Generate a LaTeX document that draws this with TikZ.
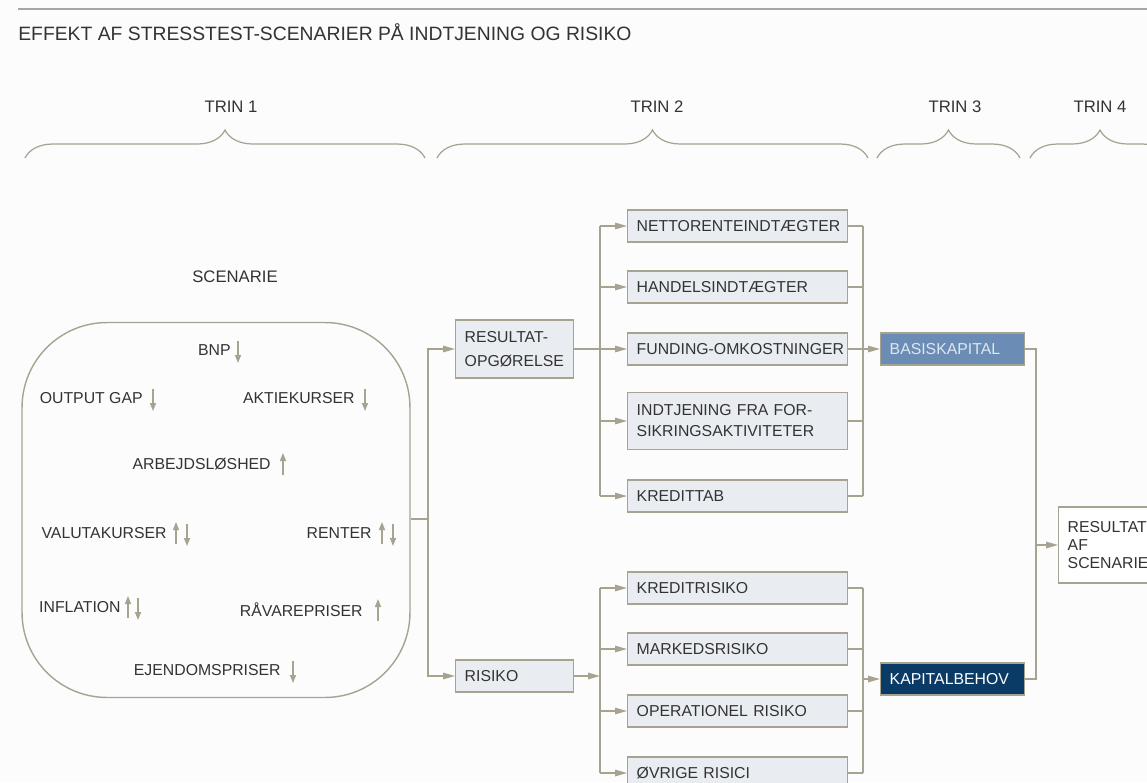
\documentclass[tikz,border=0pt]{standalone}
\usepackage{fontspec}
\setmainfont{Liberation Sans}
\usetikzlibrary{positioning}
\usetikzlibrary{arrows.meta}
\usetikzlibrary{calc}
\usetikzlibrary{decorations.pathreplacing}
\definecolor{linegray}{HTML}{A7A391}
\definecolor{boxfill}{HTML}{E9EDF2}
\definecolor{txtgray}{HTML}{333333}
\definecolor{basisblue}{HTML}{6B8CB4}
\definecolor{basistxt}{HTML}{DDE7F2}
\definecolor{navy}{HTML}{0A3B67}
\definecolor{paper}{HTML}{FCFCFC}
\tikzset{
    boxn/.style = {draw=linegray, line width=0.8pt, fill=boxfill, anchor=west, align=left, inner xsep=0.18cm, inner ysep=0pt, minimum height=0.64cm, text width=4.04cm, font=\fontsize{9}{12}\selectfont, text=txtgray},
    boxs/.style = {boxn, text width=2.0cm},
    boxb/.style = {boxn, fill=basisblue, text=basistxt, text width=2.52cm},
    boxk/.style = {boxn, fill=navy, text=white, text width=2.52cm},
    boxw/.style = {boxn, fill=white, text width=3cm, font=\fontsize{9}{10.5}\selectfont},
    scenbox/.style = {draw=linegray, line width=0.8pt, rounded corners=1.7cm, minimum width=7.76cm, minimum height=7.5cm},
    labn/.style = {font=\fontsize{9}{11}\selectfont, text=txtgray, anchor=east, inner sep=0pt},
    trin/.style = {font=\fontsize{9.5}{11}\selectfont, text=txtgray},
    edgen/.style = {-, line width=0.8pt, linegray},
    edgea/.style = {-{Triangle[length=0.24cm,width=0.13cm]}, line width=0.8pt, linegray},
    symd/.style = {-{Triangle[length=0.16cm,width=0.12cm]}, line width=0.8pt, linegray},
    bracen/.style = {decorate, decoration={brace, amplitude=0.56cm}, line width=0.7pt, linegray}
}

\begin{document}
\begin{tikzpicture}[x=0.02cm, y=-0.02cm]
  \useasboundingbox (0,0) rectangle (1147,782);
  \clip (0,0) rectangle (1147,782);
  \fill[paper] (0,0) rectangle (1147,782);

  % header
  \draw[line width=1pt, black!35] (18,9) -- (1147,9);
  \node[anchor=west, inner sep=0pt, font=\fontsize{11}{13}\selectfont, text=txtgray] (title) at (18,32)
    {EFFEKT AF STRESSTEST-SCENARIER PÅ INDTJENING OG RISIKO};

  % steps
  \node[trin] (t1) at (231,107) {TRIN 1};
  \node[trin] (t2) at (657,107) {TRIN 2};
  \node[trin] (t3) at (955,107) {TRIN 3};
  \node[trin] (t4) at (1100,107) {TRIN 4};
  \draw[bracen] (25,158) -- (425,158);
  \draw[bracen] (437,158) -- (868,158);
  \draw[bracen] (877,158) -- (1020,158);
  \draw[bracen] (1030,158) -- (1170,158);

  % scenario
  \node[trin] (scn) at (235,277) {SCENARIE};
  \node[scenbox] (scen) at (216,510) {};
  \node[labn] (bnp) at (231,350) {BNP};
  \node[labn] (ogap) at (143,398) {OUTPUT GAP};
  \node[labn] (akt) at (355,398) {AKTIEKURSER};
  \node[labn] (arb) at (271,464) {ARBEJDSLØSHED};
  \node[labn] (val) at (167,533) {VALUTAKURSER};
  \node[labn] (ren) at (372,533) {RENTER};
  \node[labn] (inf) at (121,607) {INFLATION};
  \node[labn] (rav) at (363,610) {RÅVAREPRISER};
  \node[labn] (ejd) at (281,670) {EJENDOMSPRISER};
  \draw[symd] ($(bnp.east)+(7,-9)$) -- ++(0,22);
  \draw[symd] ($(ogap.east)+(10,-9)$) -- ++(0,22);
  \draw[symd] ($(akt.east)+(10,-9)$) -- ++(0,22);
  \draw[symd] ($(arb.east)+(12,11)$) -- ++(0,-22);
  \draw[symd] ($(val.east)+(9,11)$) -- ++(0,-22);
  \draw[symd] ($(val.east)+(20,-9)$) -- ++(0,22);
  \draw[symd] ($(ren.east)+(10,11)$) -- ++(0,-22);
  \draw[symd] ($(ren.east)+(21,-9)$) -- ++(0,22);
  \draw[symd] ($(inf.east)+(7,11)$) -- ++(0,-22);
  \draw[symd] ($(inf.east)+(17,-9)$) -- ++(0,22);
  \draw[symd] ($(rav.east)+(15,11)$) -- ++(0,-22);
  \draw[symd] ($(ejd.east)+(12,-9)$) -- ++(0,22);

  % step 2
  \node[boxs, minimum height=1.16cm, font=\fontsize{9}{13.5}\selectfont] (res) at (455,349) {RESULTAT-\\OPGØRELSE};
  \node[boxs] (risk) at (455,676) {RISIKO};
  \node[boxn] (net) at (627,226) {NETTORENTEINDTÆGTER};
  \node[boxn] (han) at (627,287) {HANDELSINDTÆGTER};
  \node[boxn] (fund) at (627,349) {\mbox{FUNDING-OMKOSTNINGER}};
  \node[boxn, minimum height=1.14cm] (ind) at (627,421) {INDTJENING FRA FOR-\\SIKRINGSAKTIVITETER};
  \node[boxn] (kred) at (627,496) {KREDITTAB};
  \node[boxn] (kr) at (627,588) {KREDITRISIKO};
  \node[boxn] (mr) at (627,649) {MARKEDSRISIKO};
  \node[boxn] (op) at (627,711) {OPERATIONEL RISIKO};
  \node[boxn] (ov) at (627,773) {ØVRIGE RISICI};

  % step 3 and 4
  \node[boxb] (basis) at (880,349) {BASISKAPITAL};
  \node[boxk] (kap) at (880,679) {KAPITALBEHOV};
  \node[boxw, minimum height=1.52cm] (out) at (1058,545) {RESULTAT\\AF\\SCENARIE};

  % connectors
  \coordinate (sA) at (428,519);
  \draw[edgen] (scen.east |- sA) -- (sA);
  \draw[edgea] (sA) |- (res.west);
  \draw[edgea] (sA) |- (risk.west);

  \coordinate (bL) at (600,349);
  \coordinate (bR) at (863,349);
  \draw[edgea] (res.east) -- (fund.west);
  \draw[edgen] (bL |- net.west) -- (bL |- kred.west);
  \foreach \n in {net,han,ind,kred}
    \draw[edgea] (bL |- \n.west) -- (\n.west);
  \foreach \n in {net,han,ind,kred}
    \draw[edgen] (\n.east) -- (bR |- \n.east);
  \draw[edgen] (bR |- net.east) -- (bR |- kred.east);
  \draw[edgea] (fund.east) -- (basis.west);

  \coordinate (rL) at (600,676);
  \coordinate (rR) at (863,679);
  \draw[edgea] (risk.east) -- (rL);
  \draw[edgen] (rL |- kr.west) -- (rL |- ov.west);
  \foreach \n in {kr,mr,op,ov}
    \draw[edgea] (rL |- \n.west) -- (\n.west);
  \foreach \n in {kr,mr,op,ov}
    \draw[edgen] (\n.east) -- (rR |- \n.east);
  \draw[edgen] (rR |- kr.east) -- (rR |- ov.east);
  \draw[edgea] (rR) -- (kap.west);

  \coordinate (fR) at (1036,545);
  \draw[edgen] (basis.east) -| (fR) |- (kap.east);
  \draw[edgea] (fR) -- (out.west);
\end{tikzpicture}
\end{document}
